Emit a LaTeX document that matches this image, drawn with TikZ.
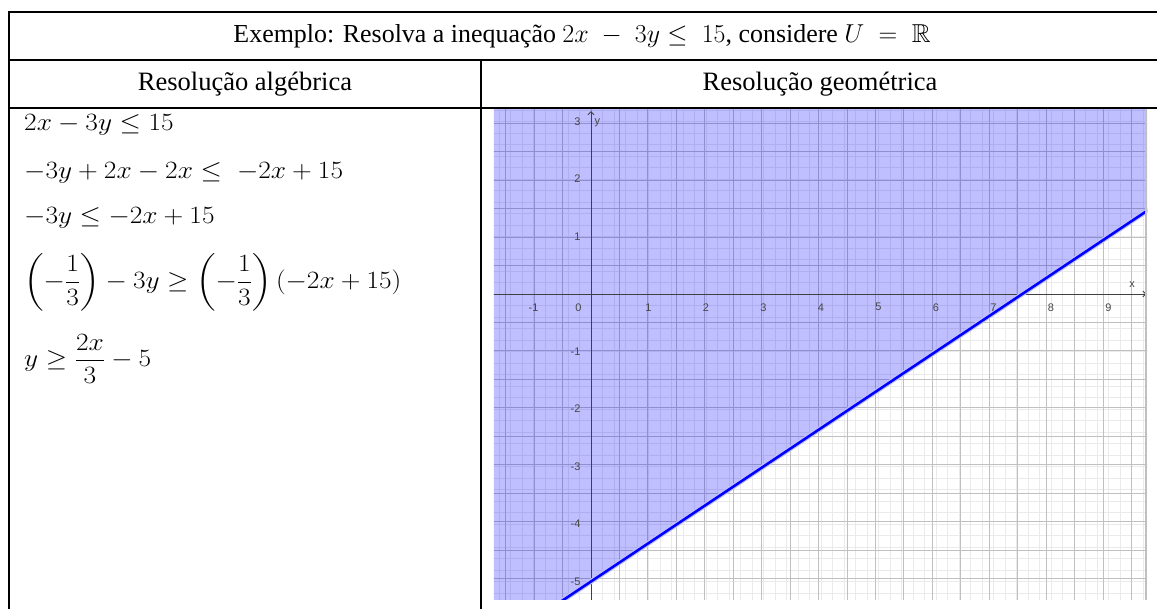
\documentclass[tikz,border=0pt]{standalone}
\usepackage{amsmath,amssymb}
\usepackage{fontspec}
\setmainfont{Liberation Serif}
\newfontfamily\geofont{Liberation Sans}
\usetikzlibrary{arrows.meta}

\definecolor{gradeforte}{RGB}{192,192,192}
\definecolor{gradefraca}{RGB}{234,234,234}
\definecolor{rotuloeixo}{RGB}{70,70,70}

\begin{document}
\begin{tikzpicture}[x=1pt, y=-1pt, >=Stealth,
  tabela/.style={line width=1.8pt},
  titulo/.style={font=\fontsize{20.74}{25}\selectfont, inner sep=0pt, scale=1.25, transform shape},
  cabec/.style={font=\fontsize{26.5}{31}\selectfont, inner sep=0pt},
  passo/.style={anchor=west, inner sep=0pt, font=\fontsize{24}{28}\selectfont, xscale=1.1, transform shape},
  rot/.style={font=\geofont\fontsize{11}{13}\selectfont, text=rotuloeixo, inner sep=0pt}]
  \useasboundingbox (0,0) rectangle (1157,608);
  % titulo e cabecalhos
  \node[titulo] (enunciado) at (582,36)
    {Exemplo: Resolva a inequação $2x\;-\;3y\le\;15$, considere $U\;=\;\mathbb{R}$};
  \node[cabec] (algebrica) at (245,84) {Resolução algébrica};
  \node[cabec] (geometrica) at (820,84) {Resolução geométrica};
  % passos da resolucao algebrica
  \node[passo] (passo1) at (24,125) {$2x-3y\le15$};
  \node[passo] (passo2) at (24,173) {$-3y+2x-2x\le\;-2x+15$};
  \node[passo] (passo3) at (24,218) {$-3y\le-2x+15$};
  \node[passo] (passo4) at (24,282)
    {$\left(-\dfrac{1}{3}\right)-3y\ge\left(-\dfrac{1}{3}\right)(-2x+15)$};
  \node[passo] (passo5) at (24,359) {$y\ge\dfrac{2x}{3}-5$};
  % resolucao geometrica: grade, semiplano e reta
  \begin{scope}[shift={(591,294)}, x=57.5pt, y=57.5pt]
    \clip (-1.69,-5.31) rectangle (9.67,3.24);
    \draw[gradefraca, line width=0.8pt, step=0.2] (-2,-6) grid (10,4);
    \draw[gradeforte, line width=1pt] (-2,-6) grid (10,4);
    \fill[blue, fill opacity=0.25] (-2,4) -- (-2,-6.333) -- (10,1.667) -- (10,4) -- cycle;
    \draw[black!75, line width=0.9pt, -{Straight Barb[length=3pt]}] (-1.7,0) -- (9.66,0);
    \draw[black!75, line width=0.9pt, -{Straight Barb[length=3pt]}] (0,-5.4) -- (0,3.18);
    \draw[blue!25, line width=5pt] (-2,-6.333) -- (10,1.667);
    \draw[blue, line width=2.6pt] (-2,-6.333) -- (10,1.667);
    \draw[gradeforte, line width=2pt] (9.66,-5.4) -- (9.66,3.24);
    % rotulos dos eixos
    \node[rot] (nomex) at (9.41,0.16) {x};
    \node[rot] (nomey) at (0.11,2.97) {y};
    \node[rot] (xm1) at (-1,-0.23) {-1};
    \node[rot] (x0) at (-0.22,-0.23) {0};
    \node[rot] (x1) at (1,-0.23) {1};
    \node[rot] (x2) at (2,-0.23) {2};
    \node[rot] (x3) at (3,-0.23) {3};
    \node[rot] (x4) at (4,-0.23) {4};
    \node[rot] (x5) at (5,-0.23) {5};
    \node[rot] (x6) at (6,-0.23) {6};
    \node[rot] (x7) at (7,-0.23) {7};
    \node[rot] (x8) at (8,-0.23) {8};
    \node[rot] (x9) at (9,-0.23) {9};
    \node[rot, anchor=east] (y3) at (-0.18,3) {3};
    \node[rot, anchor=east] (y2) at (-0.18,2) {2};
    \node[rot, anchor=east] (y1) at (-0.18,1) {1};
    \node[rot, anchor=east] (ym1) at (-0.18,-1) {-1};
    \node[rot, anchor=east] (ym2) at (-0.18,-2) {-2};
    \node[rot, anchor=east] (ym3) at (-0.18,-3) {-3};
    \node[rot, anchor=east] (ym4) at (-0.18,-4) {-4};
    \node[rot, anchor=east] (ym5) at (-0.18,-5) {-5};
  \end{scope}
  % quadro da tabela
  \draw[tabela] (1160,12) -- (9,12) -- (9,612);
  \draw[tabela] (9,60) -- (1160,60);
  \draw[tabela] (9,108) -- (1160,108);
  \draw[tabela] (481,60) -- (481,612);
\end{tikzpicture}
\end{document}
